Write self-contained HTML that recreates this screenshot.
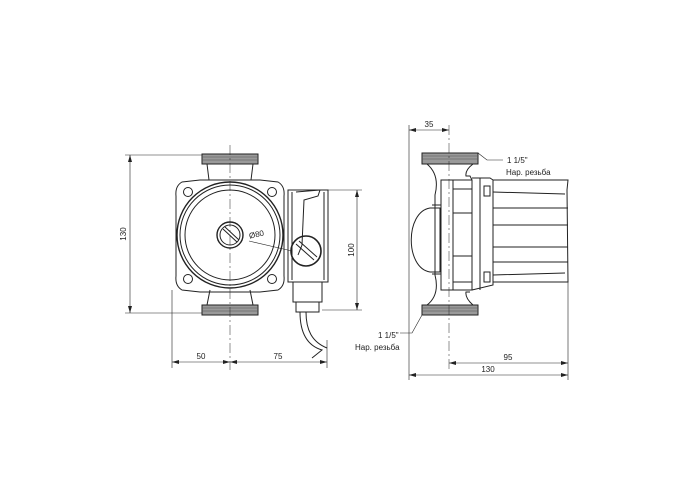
<!DOCTYPE html>
<html><head><meta charset="utf-8"><style>
html,body{margin:0;padding:0;background:#fff;}
svg{display:block;}
text{font-family:"Liberation Sans",sans-serif;font-size:8px;fill:#222;}
</style></head><body>
<svg width="700" height="500" viewBox="0 0 700 500" xmlns="http://www.w3.org/2000/svg">
<rect width="700" height="500" fill="#fff"/>
<g fill="none" stroke="#222" stroke-width="1">
<!-- LEFT VIEW -->
<rect x="202" y="154" width="56" height="10" fill="#9a9a9a" stroke="#222"/>
<rect x="202" y="305" width="56" height="10" fill="#9a9a9a" stroke="#222"/>
<path d="M202 157 L258 157 M202 160 L258 160 M202 308 L258 308 M202 311 L258 311" stroke="#555" stroke-width="0.6"/>
<path d="M207 164 L209 180 M253 164 L251 180 M207 305 L210 290 M253 305 L250 290"/>
<path d="M182 182 L200 180 L260 180 L278 182 Q285 186 284 196 L284 276 Q285 286 278 290 L260 292 L200 292 L182 290 Q175 286 176 276 L176 196 Q175 186 182 182 Z"/>
<circle cx="188" cy="192" r="4.5"/><circle cx="272" cy="192" r="4.5"/>
<circle cx="188" cy="279" r="4.5"/><circle cx="272" cy="279" r="4.5"/>
<circle cx="230" cy="235" r="53" stroke-width="1.4"/>
<circle cx="230" cy="235" r="50"/>
<circle cx="230" cy="235" r="45"/>
<circle cx="230" cy="235" r="13" stroke-width="1.4"/>
<circle cx="230" cy="235" r="10"/>
<path d="M223 229 L237 242 M225 227 L239 240"/>
<rect x="288" y="190" width="40" height="92"/>
<path d="M296 192 L320 190 L318 196 L304 200 L302 245 L298 255"/>
<path d="M292 192 L292 280 M324 192 L324 280"/>
<circle cx="306" cy="251" r="15" stroke-width="1.6"/>
<path d="M296 244 L314 260 M299 241 L317 257"/>
<rect x="293" y="282" width="29" height="20"/>
<rect x="296" y="302" width="23" height="10"/>
<path d="M300 312 C300 330 305 345 322 350 L312 358 M306 312 C306 330 312 342 327 348"/>
<path d="M249 241 L292 251" stroke-width="0.6"/>
<path d="M230 145 L230 370" stroke-width="0.5" stroke-dasharray="10 3 2 3"/>
<g stroke-width="0.6">
<path d="M130 155 L130 313 M125 155 L202 155 M125 313 L202 313"/>
<path d="M357 190 L357 310 M328 190 L362 190 M322 310 L362 310"/>
<path d="M172 362 L327 362 M172 290 L172 368 M327 340 L327 368"/>
</g>
<g fill="#222" stroke="none">
<path d="M130 155 l-2 7 l4 0z M130 313 l-2 -7 l4 0z M357 190 l-2 7 l4 0z M357 310 l-2 -7 l4 0z"/>
<path d="M172 362 l7 -2 l0 4z M230 362 l-7 -2 l0 4z M230 362 l7 -2 l0 4z M327 362 l-7 -2 l0 4z"/>
</g>

<!-- RIGHT VIEW -->
<rect x="422" y="153" width="56" height="11" fill="#9a9a9a" stroke="#222"/>
<rect x="422" y="305" width="56" height="10" fill="#9a9a9a" stroke="#222"/>
<path d="M422 156 L478 156 M422 159 L478 159 M422 308 L478 308 M422 311 L478 311" stroke="#555" stroke-width="0.6"/>
<path d="M427 164 Q440 175 435 195 L435 275 Q440 295 427 305"/>
<path d="M473 164 Q465 170 466 176 L470 176 L472 180 M473 305 Q465 298 466 292 L470 292"/>
<path d="M430 208 L440 208 L440 272 L430 272 C405 268 405 212 430 208 Z"/>
<path d="M432 205 L441 205 L441 274 L432 274"/>
<path d="M441 180 L450 180 L472 180 L472 290 L441 290 Z"/>
<path d="M453 180 L453 290 M453 189 L472 189 M453 213 L472 213 M453 256 L472 256 M453 282 L472 282"/>
<path d="M472 178 L490 178 L493 180 L493 285 L472 290"/>
<path d="M480 178 L480 290 M484 186 L490 186 L490 196 L484 196 Z M484 272 L490 272 L490 282 L484 282 Z"/>
<path d="M493 180 L568 180 L567 190 L568 282 L493 282"/>
<path d="M493 192 L565 194 M493 208 L568 208 M493 225 L568 225 M493 247 L568 247 M493 262 L568 262 M493 275 L565 273"/>
<path d="M449 125 L449 370" stroke-width="0.5" stroke-dasharray="10 3 2 3"/>
<g stroke-width="0.6">
<path d="M409 130 L449 130 M409 125 L409 380"/>
<path d="M449 363 L568 363 M409 375 L568 375 M568 282 L568 380"/>
<path d="M478 153 L487 160 L503 160"/>
<path d="M422 315 L412 333 L400 333"/>
</g>
<g fill="#222" stroke="none">
<path d="M409 130 l7 -2 l0 4z M449 130 l-7 -2 l0 4z M449 363 l7 -2 l0 4z M568 363 l-7 -2 l0 4z M409 375 l7 -2 l0 4z M568 375 l-7 -2 l0 4z"/>
</g>
</g>
<text x="126" y="234" transform="rotate(-90 126 234)" text-anchor="middle">130</text>
<text x="354" y="250" transform="rotate(-90 354 250)" text-anchor="middle">100</text>
<text x="201" y="359" text-anchor="middle">50</text>
<text x="278" y="359" text-anchor="middle">75</text>
<text x="257" y="237" transform="rotate(-12 257 237)" text-anchor="middle">Ø80</text>
<text x="429" y="127" text-anchor="middle">35</text>
<text x="508" y="360" text-anchor="middle">95</text>
<text x="488" y="372" text-anchor="middle">130</text>
<text x="507" y="163">1 1/5"</text>
<text x="506" y="175">Нар. резьба</text>
<text x="378" y="338">1 1/5"</text>
<text x="355" y="350">Нар. резьба</text>
</svg>
</body></html>
